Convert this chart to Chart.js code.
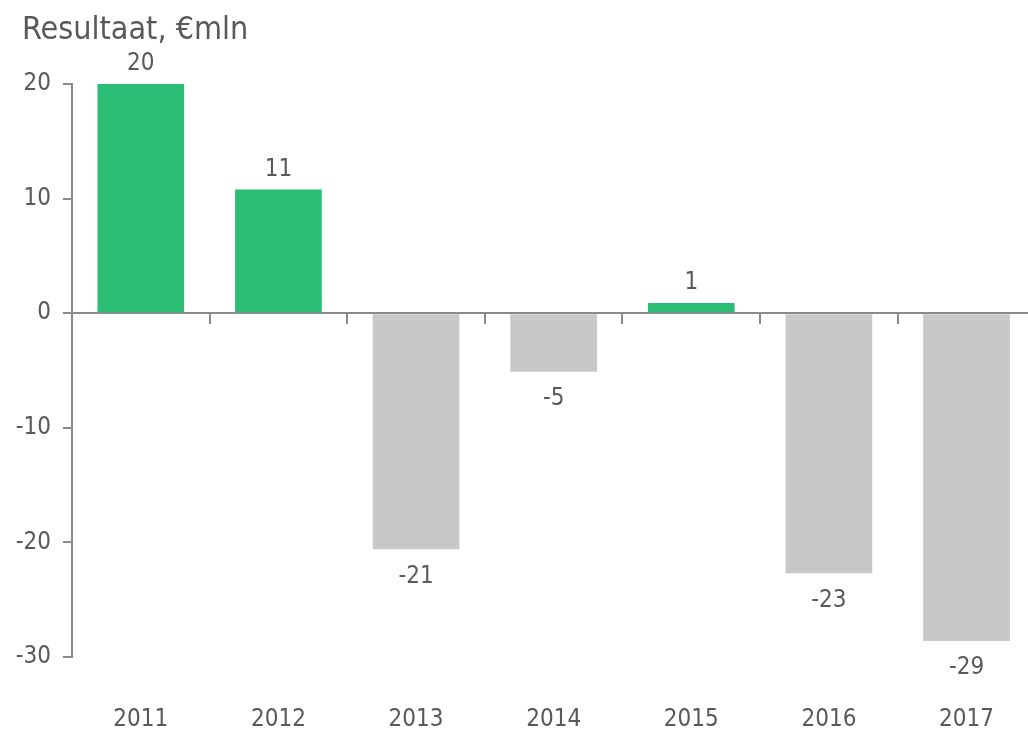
<!DOCTYPE html>
<html>
<head>
<meta charset="utf-8">
<script src="https://cdn.jsdelivr.net/npm/chart.js@4/dist/chart.umd.min.js"></script>
<style>
  html, body { margin: 0; padding: 0; background: #ffffff; overflow: hidden; }
  #wrap { width: 1042px; height: 734px; }
</style>
</head>
<body>
<div id="wrap"><canvas id="c" width="1042" height="734"></canvas></div>
<script>
const categories = ['2011', '2012', '2013', '2014', '2015', '2016', '2017'];
const values = [20.0, 10.8, -20.6, -5.1, 0.9, -22.7, -28.6];
const valueLabels = ['20', '11', '-21', '-5', '1', '-23', '-29'];
const yTicks = [-30, -20, -10, 0, 10, 20];
const title = 'Resultaat, €mln';

const FONT = '"DejaVu Sans Condensed", "DejaVu Sans", sans-serif';
const TEXT = '#595959';
const AXIS = '#8a8a8a';
const GREEN = '#2bbd74';
const GREY = '#c8c8c8';

const labelPlugin = {
  id: 'valueLabels',
  afterDatasetsDraw(chart) {
    const ctx = chart.ctx;
    const meta = chart.getDatasetMeta(0);
    ctx.save();
    ctx.font = '24px ' + FONT;
    ctx.fillStyle = TEXT;
    ctx.textAlign = 'center';
    ctx.textBaseline = 'middle';
    meta.data.forEach((bar, i) => {
      const v = values[i];
      const y = v >= 0 ? bar.y - 20 : bar.y + 27;
      ctx.fillText(valueLabels[i], bar.x, y);
    });
    ctx.restore();
  },
  afterDraw(chart) {
    const ctx = chart.ctx;
    ctx.save();
    ctx.font = '32px ' + FONT;
    ctx.fillStyle = TEXT;
    ctx.textAlign = 'left';
    ctx.textBaseline = 'alphabetic';
    ctx.fillText(title, 22, 39);
    ctx.restore();
  }
};

new Chart(document.getElementById('c'), {
  type: 'bar',
  data: {
    labels: categories,
    datasets: [{
      data: values,
      backgroundColor: values.map(v => v >= 0 ? GREEN : GREY),
      borderWidth: 0,
      categoryPercentage: 1,
      barPercentage: 0.63,
      xAxisID: 'x'
    }]
  },
  options: {
    responsive: false,
    animation: false,
    layout: { padding: { top: 84, left: 0, right: 0, bottom: 0 } },
    plugins: { legend: { display: false }, tooltip: { enabled: false }, title: { display: false } },
    scales: {
      x: {
        position: 'bottom',
        grid: { display: false, drawTicks: false },
        border: { display: false },
        ticks: { color: TEXT, font: { family: FONT, size: 24 }, padding: 48, maxRotation: 0 },
        afterFit(s) { s.height = 77; }
      },
      x2: {
        type: 'category',
        labels: categories,
        position: { y: 0 },
        offset: true,
        grid: { drawOnChartArea: false, drawTicks: true, tickLength: 10, color: AXIS, lineWidth: 2, offset: true },
        border: { display: true, color: AXIS, width: 2 },
        ticks: { display: false }
      },
      y: {
        min: -30,
        max: 20,
        afterBuildTicks(s) { s.ticks = yTicks.map(v => ({ value: v })); },
        grid: { drawOnChartArea: false, drawTicks: true, tickLength: 9, color: AXIS, lineWidth: 2 },
        border: { display: true, color: AXIS, width: 2 },
        ticks: { color: TEXT, font: { family: FONT, size: 24 }, padding: 12 },
        afterFit(s) { s.width = 72; }
      }
    }
  },
  plugins: [labelPlugin]
});
</script>
</body>
</html>
